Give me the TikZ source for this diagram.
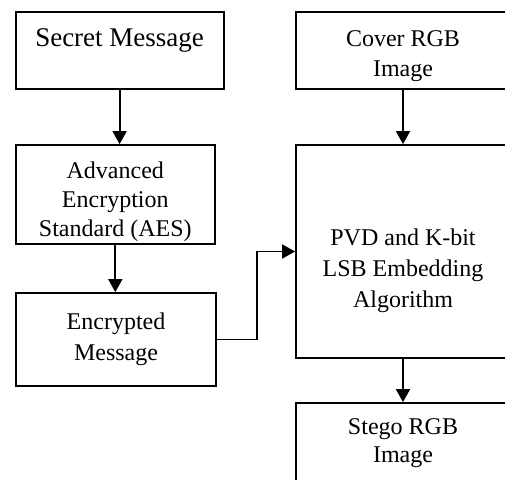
\documentclass[tikz,border=0pt]{standalone}
\usepackage{fontspec}
\setmainfont{Liberation Serif}
\usetikzlibrary{arrows.meta}

\begin{document}
\begin{tikzpicture}[x=1pt, y=-1pt,
        box/.style={draw, line width=1.8pt, align=center, inner sep=0pt,
            font=\fontsize{24}{29}\selectfont},
        flow/.style={line width=1.8pt, -{Triangle[length=13pt,width=14pt]}}]
        \clip (0,0) rectangle (505,479);

        \coordinate (S) at (119.6,50.5);
        \coordinate (A) at (115.3,194.5);
        \coordinate (E) at (116,339.5);
        \coordinate (C) at (403,50.5);
        \coordinate (P) at (403,251.5);
        \coordinate (G) at (403,443);

        % left column
        \node[box, minimum width=208pt, minimum height=77pt, text depth=25pt,
            font=\fontsize{27}{30}\selectfont] (secret) at (S) {Secret Message};
        \node[box, minimum width=199pt, minimum height=99pt] (aes) at (A)
            {\mbox{}\\[1.6pt]Advanced\\Encryption\\Standard (AES)};
        \node[box, minimum width=200pt, minimum height=93pt,
            font=\fontsize{24}{31}\selectfont] (enc) at (E) {Encrypted\\Message};

        % right column
        \node[box, minimum width=214pt, minimum height=77pt,
            font=\fontsize{24}{30}\selectfont] (cover) at (C)
            {\mbox{}\\[-3.4pt]Cover RGB\\Image};
        \node[box, minimum width=214pt, minimum height=213pt,
            font=\fontsize{24}{31}\selectfont] (pvd) at (P)
            {\mbox{}\\[25pt]PVD and K-bit\\LSB Embedding\\Algorithm};
        \node[box, minimum width=214pt, minimum height=80pt,
            font=\fontsize{24}{28}\selectfont] (stego) at (G) {Stego RGB\\Image};

        \draw[flow] (secret.south) -- (secret.south |- aes.north);
        \draw[flow] (aes.south) -- (aes.south |- enc.north);
        \draw[flow] (enc.east) -- ++(40,0) |- (pvd.west);
        \draw[flow] (cover.south) -- (pvd.north);
        \draw[flow] (pvd.south) -- (stego.north);
    \end{tikzpicture}
\end{document}
